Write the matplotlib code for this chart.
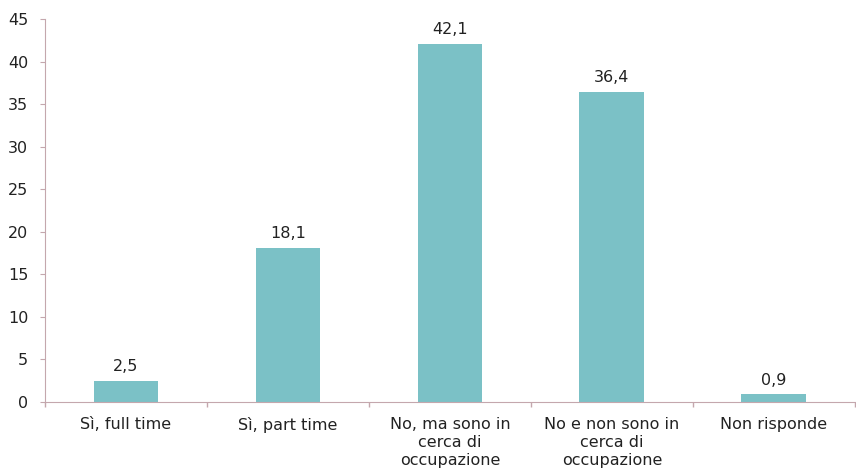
import numpy as np
import matplotlib.pyplot as plt

categorie = ["Sì, full time", "Sì, part time", "No, ma sono in\ncerca di\noccupazione",
             "No e non sono in\ncerca di\noccupazione", "Non risponde"]
valori = [2.5, 18.1, 42.1, 36.4, 0.9]
etichette = ["2,5", "18,1", "42,1", "36,4", "0,9"]

colore_barre = "#7BC1C6"
colore_assi = "#C4A7AD"
fs = 11.5

fig = plt.figure(figsize=(8.56, 4.71), dpi=100)
ax = fig.add_axes([0.0526, 0.1465, 0.946, 0.813])

x = np.arange(len(categorie))
ax.bar(x, valori, width=0.4, color=colore_barre)

for xi, v, t in zip(x, valori, etichette):
    ax.text(xi, v + 0.8, t, ha="center", va="bottom", fontsize=fs, color="#222222")

ax.set_xlim(-0.5, len(categorie) - 0.5)
ax.set_ylim(0, 45)
ax.set_yticks(np.arange(0, 46, 5))

ax.set_xticks(x)
ax.set_xticklabels(categorie, fontsize=fs, color="#222222", linespacing=1.25)
ax.tick_params(axis="x", which="major", length=0, pad=11)
ax.set_xticks(np.arange(-0.5, len(categorie), 1), minor=True)
ax.tick_params(axis="x", which="minor", length=3.5, color=colore_assi, width=1)
ax.tick_params(axis="y", labelsize=fs, labelcolor="#222222", length=3.5, color=colore_assi, pad=8.5)

for s in ["top", "right"]:
    ax.spines[s].set_visible(False)
for s in ["left", "bottom"]:
    ax.spines[s].set_color(colore_assi)

fig.savefig("out.png", dpi=100)
